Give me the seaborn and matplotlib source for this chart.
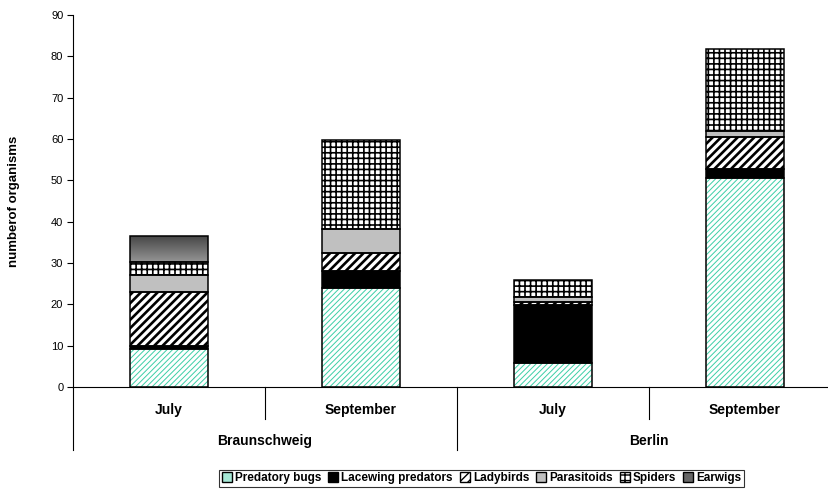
import numpy as np
import pandas as pd
import matplotlib
matplotlib.use("Agg")
import matplotlib.pyplot as plt
import seaborn as sns
from matplotlib.patches import Patch, Rectangle

# Sampling slots (site x month)
sites = ["Braunschweig", "Braunschweig", "Berlin", "Berlin"]
months = ["July", "September", "July", "September"]

# Mean number of organisms per group, stacked bottom to top
groups = ["Predatory bugs", "Lacewing predators", "Ladybirds",
          "Parasitoids", "Spiders", "Earwigs"]
predatory_bugs = [9.1, 24.0, 5.8, 50.6]
lacewing_predators = [0.7, 4.0, 14.0, 2.2]
ladybirds = [13.2, 4.4, 0.8, 7.7]
parasitoids = [4.1, 5.8, 1.2, 1.5]
spiders = [3.2, 21.5, 4.1, 19.7]
earwigs = [6.3, 0.0, 0.0, 0.0]

yticks = list(range(0, 100, 10))

series = [predatory_bugs, lacewing_predators, ladybirds,
          parasitoids, spiders, earwigs]

# fill colour, hatch, hatch colour, hatch width
styles = {
    "Predatory bugs": ("white", "//////", "#3ccfa6", 0.7),
    "Lacewing predators": ("black", None, "black", 1.0),
    "Ladybirds": ("white", "////", "black", 1.9),
    "Parasitoids": ("#c0c0c0", None, "black", 1.0),
    "Spiders": ("white", "+++", "black", 1.2),
    "Earwigs": ("white", None, "black", 1.0),
}

slots = [f"{s} {m}" for s, m in zip(sites, months)]
rows = []
for g, vals in zip(groups, series):
    for slot, v in zip(slots, vals):
        rows.append({"slot": slot, "group": g, "value": v})
df = pd.DataFrame(rows)
df["bottom"] = df.groupby("slot")["value"].cumsum() - df["value"]

plt.rcParams["font.family"] = ["Liberation Sans", "DejaVu Sans"]
fig = plt.figure(figsize=(8.29, 4.91), dpi=100)
ax = fig.add_axes([73 / 829, 104 / 491, 768 / 829, 372 / 491])

earwig_bars = []
for g in groups:
    face, hatch, hcol, hlw = styles[g]
    sub = df[(df["group"] == g) & (df["value"] > 0)]
    n_before = len(ax.patches)
    with plt.rc_context({"hatch.linewidth": hlw}):
        sns.barplot(data=sub, x="slot", y="value", order=slots, ax=ax,
                    bottom=sub["bottom"].to_numpy(), width=0.406,
                    color=face, saturation=1, hatch=hatch,
                    edgecolor=hcol, linewidth=0, errorbar=None)
    new = ax.patches[n_before:]
    for p in new:
        p.set_facecolor(face)
        p.set_edgecolor(hcol)
        if hatch:
            p.set_hatch(hatch)
        if hasattr(p, "set_hatch_linewidth"):
            p.set_hatch_linewidth(hlw)
        ax.add_patch(Rectangle(p.get_xy(), p.get_width(), p.get_height(),
                               fill=False, edgecolor="black", linewidth=1.1,
                               zorder=3))
        if g == "Earwigs":
            earwig_bars.append(p)

# Shaded fill for the earwig segment
grad = np.linspace(0.58, 0.27, 64).reshape(-1, 1)
for p in earwig_bars:
    x0, y0 = p.get_xy()
    im = ax.imshow(grad, cmap="gray", vmin=0, vmax=1, aspect="auto",
                   extent=[x0, x0 + p.get_width(), y0, y0 + p.get_height()],
                   origin="lower", zorder=2)
    im.set_clip_path(p)

ax.set_xlim(-0.5, 3.5)
ax.set_ylim(0, 90)
ax.set_yticks(yticks)
ax.tick_params(axis="y", length=4, width=0.8, labelsize=8, pad=3,
               colors="black", direction="out")
ax.tick_params(axis="x", length=0, labelbottom=False)
ax.set_xlabel("")
ax.set_ylabel("numberof organisms", fontsize=9.5, fontweight="bold",
              labelpad=22)
for s in ["top", "right"]:
    ax.spines[s].set_visible(False)
for s in ["left", "bottom"]:
    ax.spines[s].set_color("black")
    ax.spines[s].set_linewidth(0.8)

# Two-level category axis
tr = ax.get_xaxis_transform()
long_drop = -63 / 372
short_drop = -32 / 372
for xb in [-0.5, 1.5, 3.5]:
    ax.plot([xb, xb], [0, long_drop], transform=tr, color="black",
            lw=0.8, clip_on=False)
for xb in [0.5, 2.5]:
    ax.plot([xb, xb], [0, short_drop], transform=tr, color="black",
            lw=0.8, clip_on=False)
for i, m in enumerate(months):
    ax.text(i, -23 / 372, m, transform=tr, ha="center", va="center",
            fontsize=10, fontweight="bold")
for i, site in enumerate(["Braunschweig", "Berlin"]):
    ax.text(2 * i + 0.5, -54 / 372, site, transform=tr, ha="center",
            va="center", fontsize=10, fontweight="bold")

# Legend
handles = []
for g in groups:
    face, hatch, hcol, hlw = styles[g]
    if g == "Predatory bugs":
        h = Patch(facecolor="#a6e8d6", edgecolor="black", linewidth=1.0)
    elif g == "Earwigs":
        h = Patch(facecolor="#666666", edgecolor="black", linewidth=1.0)
    elif g == "Ladybirds":
        h = Patch(facecolor="white", edgecolor="black", hatch="////",
                  linewidth=1.0)
    elif g == "Spiders":
        h = Patch(facecolor="white", edgecolor="black", hatch="+++",
                  linewidth=1.0)
    else:
        h = Patch(facecolor=face, edgecolor="black", linewidth=1.0)
    handles.append(h)
leg = fig.legend(handles, groups, loc="center", bbox_to_anchor=(0.581, 0.026),
                 ncol=6, frameon=True, fancybox=False, edgecolor="black",
                 handlelength=0.85, handleheight=0.85, handletextpad=0.25,
                 columnspacing=0.6, borderpad=0.2, borderaxespad=0,
                 prop={"weight": "bold", "size": 8.5})
leg.get_frame().set_linewidth(0.8)

fig.savefig("out.png", dpi=100)
